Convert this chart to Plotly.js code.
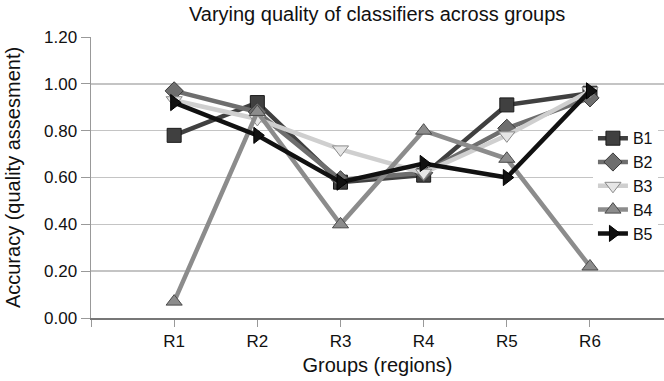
<!DOCTYPE html>
<html>
<head>
<meta charset="utf-8">
<script src="https://cdn.plot.ly/plotly-3.0.1.min.js"></script>
<style>html,body{margin:0;padding:0;background:#fff;}#chart{width:664px;height:381px;}</style>
</head>
<body>
<div id="chart"></div>
<script>
const categories = ['R1', 'R2', 'R3', 'R4', 'R5', 'R6'];
const seriesNames = ['B1', 'B2', 'B3', 'B4', 'B5'];
const B1 = [0.78, 0.92, 0.58, 0.61, 0.91, 0.96];
const B2 = [0.97, 0.88, 0.59, 0.62, 0.81, 0.94];
const B3 = [0.93, 0.85, 0.72, 0.62, 0.78, 0.97];
const B4 = [0.07, 0.88, 0.40, 0.80, 0.68, 0.22];
const B5 = [0.92, 0.78, 0.58, 0.66, 0.60, 0.97];
const yTicks = [0, 0.2, 0.4, 0.6, 0.8, 1.0, 1.2];

const values = [B1, B2, B3, B4, B5];
const styles = [
  {line: '#404040', fill: '#404040', edge: '#1a1a1a', symbol: 'square'},
  {line: '#6e6e6e', fill: '#6e6e6e', edge: '#3a3a3a', symbol: 'diamond'},
  {line: '#cfcfcf', fill: '#e6e6e6', edge: '#8a8a8a', symbol: 'triangle-down'},
  {line: '#8c8c8c', fill: '#8c8c8c', edge: '#4a4a4a', symbol: 'triangle-up'},
  {line: '#111111', fill: '#111111', edge: '#000000', symbol: 'triangle-right'}
];
const xPos = categories.map((c, i) => i + 1);

const traces = values.map((v, k) => ({
  type: 'scatter', mode: 'lines+markers', name: seriesNames[k],
  x: xPos, y: v,
  line: {color: styles[k].line, width: 4.5},
  marker: {symbol: styles[k].symbol, size: 14, color: styles[k].fill,
           line: {color: styles[k].edge, width: 1}}
}));

const layout = {
  width: 664, height: 381,
  margin: {l: 91, r: 0, t: 37, b: 63},
  paper_bgcolor: '#fff', plot_bgcolor: '#fff',
  font: {family: 'Liberation Sans, Arial, sans-serif', color: '#111'},
  title: {text: 'Varying quality of classifiers across groups', font: {size: 20, color: '#111'},
          x: 0.568, xanchor: 'center', y: 0.962, yanchor: 'middle'},
  xaxis: {
    range: [0, 6.89], tickmode: 'array', tickvals: [0].concat(xPos), ticktext: [''].concat(categories),
    ticks: 'outside', ticklen: 7, tickcolor: '#999', showgrid: false, zeroline: false,
    showline: true, linecolor: '#777', linewidth: 2,
    tickfont: {size: 17, color: '#111'},
    title: {text: 'Groups (regions)', font: {size: 20, color: '#111'}, standoff: 8}
  },
  yaxis: {
    range: [0, 1.2], tickmode: 'array', tickvals: yTicks, ticktext: yTicks.map(t => t.toFixed(2)),
    ticks: 'outside', ticklen: 9, tickcolor: '#999',
    showgrid: true, gridcolor: '#c4c4c4', gridwidth: 1.5, zeroline: false,
    showline: true, linecolor: '#999', linewidth: 1.5,
    tickfont: {size: 17, color: '#111'},
    title: {text: 'Accuracy (quality assesment)', font: {size: 20, color: '#111'}, standoff: 18}
  },
  legend: {x: 0.876, y: 0.70, xanchor: 'left', yanchor: 'top', bgcolor: '#fff',
           font: {size: 16, color: '#111'}, tracegroupgap: 0, itemwidth: 30},
  showlegend: true
};

Plotly.newPlot('chart', traces, layout, {displayModeBar: false, staticPlot: true});
</script>
</body>
</html>
